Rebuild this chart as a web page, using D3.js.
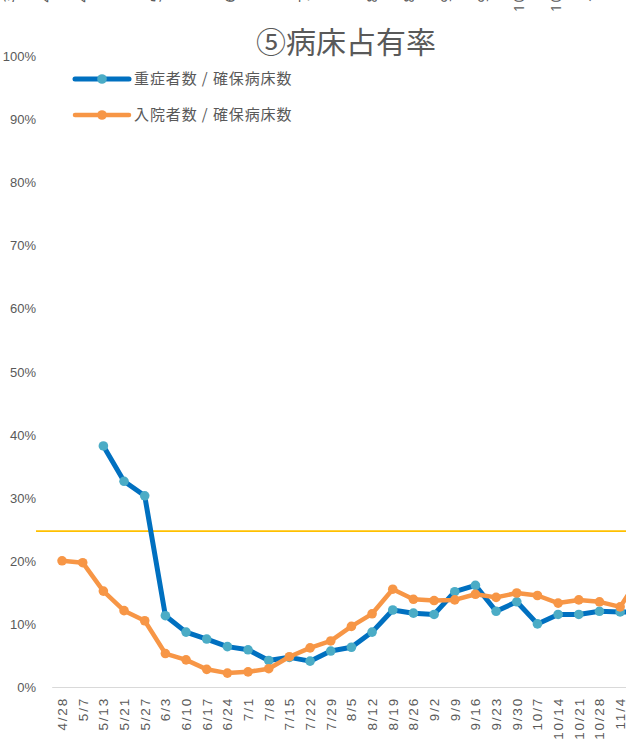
<!DOCTYPE html>
<html>
<head>
<meta charset="utf-8">
<style>
  body { margin: 0; background: #fff; }
  svg { display: block; font-family: "Noto Sans", "Noto Sans CJK JP", sans-serif; }
  .tick text { fill: #595959; font-size: 13px; }
  .x .tick text { font-size: 13.5px; letter-spacing: 1.8px; }
  .x .tick line, .y .tick line { display: none; }
  .y .domain { display: none; }
  .x .domain { stroke: #d9d9d9; }
  .legend text { fill: #595959; font-size: 15px; letter-spacing: 0.9px; font-family: "Noto Sans CJK JP", sans-serif; }
  .title { fill: #595959; font-size: 30px; font-family: "Noto Sans CJK JP", sans-serif; }
</style>
</head>
<body>
<svg width="626" height="743"></svg>
<script src="https://d3js.org/d3.v7.min.js"></script>
<script>
// weekly dates (the last one falls just outside the picture)
let dates = ["4/28", "5/7", "5/13", "5/21", "5/27", "6/3", "6/10", "6/17", "6/24", "7/1",
  "7/8", "7/15", "7/22", "7/29", "8/5", "8/12", "8/19", "8/26", "9/2", "9/9",
  "9/16", "9/23", "9/30", "10/7", "10/14", "10/21", "10/28", "11/4", "11/11"];

// 重症者数 / 確保病床数 (%)
let severe = [null, null, 38.2, 32.6, 30.3, 11.3, 8.7, 7.6, 6.4, 5.9,
  4.2, 4.7, 4.1, 5.7, 6.3, 8.7, 12.2, 11.7, 11.5, 15.1,
  16.1, 12.0, 13.5, 10.0, 11.5, 11.5, 12.0, 11.9, 11.9];

// 入院者数 / 確保病床数 (%)
let inpatient = [20.0, 19.7, 15.2, 12.1, 10.5, 5.3, 4.3, 2.8, 2.2, 2.4,
  2.9, 4.8, 6.2, 7.3, 9.6, 11.6, 15.5, 13.9, 13.7, 13.8,
  14.7, 14.2, 14.9, 14.5, 13.3, 13.8, 13.5, 12.7, 17.7];

let threshold = 24.7;

let yTicks = [0, 10, 20, 30, 40, 50, 60, 70, 80, 90, 100];

// cut-off labels of the chart above this one
let prevDates = ["2020-03-31", "2020-04-14", "2020-04-28", "2020-05-26", "2020-06-23", "2020-07-21",
  "2020-08-16", "2020-08-30", "2020-09-13", "2020-09-27", "2020-10-11", "2020-10-25", "2020-11-08"];

let svg = d3.select("svg");

let margin = { top: 56, left: 51.7, bottom: 687 };
let step = 20.67;

let x = d3.scaleBand()
  .domain(dates)
  .range([margin.left, margin.left + step * dates.length]);

let y = d3.scaleLinear()
  .domain([0, 100])
  .range([margin.bottom, margin.top]);

// remains of the previous chart's axis labels at the very top
let parse = d3.timeParse("%Y-%m-%d");
let xPrev = d3.scaleTime()
  .domain([parse("2020-03-31"), parse("2020-11-08")])
  .range([10, 594]);
let fmt = d3.timeFormat("%-m/%-d");
svg.append("g")
  .selectAll("text")
  .data(prevDates)
  .join("text")
  .attr("transform", d => `translate(${xPrev(parse(d)) + 4},-33) rotate(-90)`)
  .attr("text-anchor", "end")
  .style("fill", "#595959")
  .style("font-size", "13.5px")
  .style("letter-spacing", "1.8px")
  .text(d => fmt(parse(d)));

// title
svg.append("text")
  .attr("class", "title")
  .attr("x", 346)
  .attr("y", 53)
  .attr("text-anchor", "middle")
  .text("⑤病床占有率");

// y axis
svg.append("g")
  .attr("class", "y axis")
  .attr("transform", "translate(36,0)")
  .call(d3.axisLeft(y).tickValues(yTicks).tickSize(0).tickPadding(0).tickFormat(d => d + "%"))
  .call(g => g.selectAll("text").attr("dy", "0.35em"));

// x axis
svg.append("g")
  .attr("class", "x axis")
  .attr("transform", `translate(0,${margin.bottom})`)
  .call(d3.axisBottom(x).tickSize(0).tickSizeOuter(0).tickPadding(0))
  .call(g => g.selectAll("text")
    .attr("text-anchor", "end")
    .attr("transform", "translate(5,10) rotate(-90)")
    .attr("y", 0)
    .attr("dy", 0));

// threshold line
svg.append("line")
  .attr("x1", 36)
  .attr("x2", 626)
  .attr("y1", y(threshold))
  .attr("y2", y(threshold))
  .attr("stroke", "#FFC000")
  .attr("stroke-width", 1.6);

let cx = d => x(d) + x.bandwidth() / 2;

let line = d3.line()
  .defined(d => d.v != null)
  .x(d => cx(d.date))
  .y(d => y(d.v));

let series = [
  { name: "重症者数 / 確保病床数", values: severe, stroke: "#0070C0", marker: "#4BACC6", width: 5 },
  { name: "入院者数 / 確保病床数", values: inpatient, stroke: "#F79646", marker: "#F79646", width: 4.5 }
];

series.forEach(s => {
  let pts = dates.map((d, i) => ({ date: d, v: s.values[i] }));
  let g = svg.append("g");
  g.append("path")
    .datum(pts)
    .attr("fill", "none")
    .attr("stroke", s.stroke)
    .attr("stroke-width", s.width)
    .attr("stroke-linejoin", "round")
    .attr("d", line);
  g.selectAll("circle")
    .data(pts.filter(p => p.v != null))
    .join("circle")
    .attr("cx", p => cx(p.date))
    .attr("cy", p => y(p.v))
    .attr("r", 4.8)
    .attr("fill", s.marker);
});

// legend
let legend = svg.append("g").attr("class", "legend");
series.forEach((s, i) => {
  let ly = 79 + i * 36;
  legend.append("line")
    .attr("x1", 75).attr("x2", 129)
    .attr("y1", ly).attr("y2", ly)
    .attr("stroke", s.stroke)
    .attr("stroke-width", s.width)
    .attr("stroke-linecap", "round");
  legend.append("circle")
    .attr("cx", 102).attr("cy", ly).attr("r", 4.8)
    .attr("fill", s.marker);
  legend.append("text")
    .attr("x", 134).attr("y", ly)
    .attr("dy", "0.35em")
    .text(s.name);
});
</script>
</body>
</html>
